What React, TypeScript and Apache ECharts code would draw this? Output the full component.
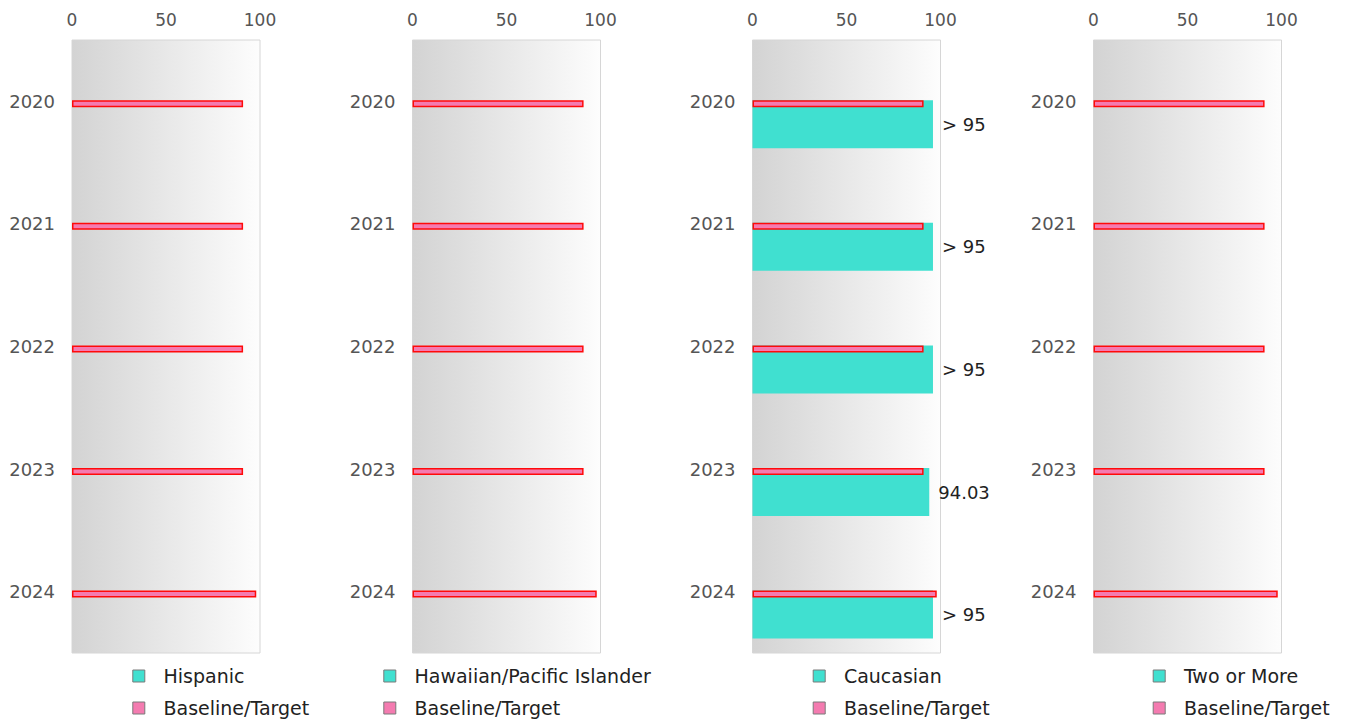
import React, { useEffect, useRef } from "react";
import * as echarts from "echarts";

const years = ["2020", "2021", "2022", "2023", "2024"];
const groups = ["Hispanic", "Hawaiian/Pacific Islander", "Caucasian", "Two or More"];
const baselineTarget = [91, 91, 91, 91, 98];
const hispanicRates: (number | null)[] = [null, null, null, null, null];
const hawaiianRates: (number | null)[] = [null, null, null, null, null];
const caucasianRates: (number | null)[] = [96, 96, 96, 94.03, 96];
const twoOrMoreRates: (number | null)[] = [null, null, null, null, null];
const hispanicLabels = ["", "", "", "", ""];
const hawaiianLabels = ["", "", "", "", ""];
const caucasianLabels = ["> 95", "> 95", "> 95", "94.03", "> 95"];
const twoOrMoreLabels = ["", "", "", "", ""];
const xTicks = [0, 50, 100];

const groupRates = [hispanicRates, hawaiianRates, caucasianRates, twoOrMoreRates];
const groupLabels = [hispanicLabels, hawaiianLabels, caucasianLabels, twoOrMoreLabels];

const TEAL = "#40e0d0";
const PINK = "#f47bb0";
const FONT = "DejaVu Sans";

export default function App() {
  const ref = useRef<HTMLDivElement>(null);
  useEffect(() => {
    if (!ref.current) return;
    const chart = echarts.init(ref.current, undefined, { renderer: "svg" });
    const panelLeft = [72, 412.5, 752.5, 1093.5];
    const legendIconLeft = [132.3, 383.3, 812.7, 1152.7];
    const grids: any[] = [];
    const xAxes: any[] = [];
    const yAxes: any[] = [];
    const series: any[] = [];
    const legends: any[] = [];
    groups.forEach((g, i) => {
      grids.push({
        left: panelLeft[i],
        top: 40,
        width: 188,
        height: 613,
        show: true,
        borderColor: "#d6d6d6",
        borderWidth: 1,
        backgroundColor: new echarts.graphic.LinearGradient(0, 0, 1, 0, [
          { offset: 0, color: "#d3d3d3" },
          { offset: 1, color: "#fdfdfd" },
        ]),
      });
      xAxes.push({
        type: "value",
        gridIndex: i,
        position: "top",
        min: xTicks[0],
        max: xTicks[xTicks.length - 1],
        interval: xTicks[1] - xTicks[0],
        axisLine: { show: false },
        axisTick: { show: false },
        splitLine: { show: false },
        axisLabel: { color: "#555", fontSize: 17, fontFamily: FONT, margin: 12 },
      });
      yAxes.push({
        type: "category",
        gridIndex: i,
        data: years,
        inverse: true,
        axisLine: { show: false },
        axisTick: { show: false },
        splitLine: { show: false },
        axisLabel: { color: "#555", fontSize: 18, fontFamily: FONT, margin: 17 },
      });
      const labels = groupLabels[i];
      series.push({
        type: "bar",
        name: g,
        xAxisIndex: i,
        yAxisIndex: i,
        data: groupRates[i],
        barWidth: 48,
        barGap: "-100%",
        itemStyle: { color: TEAL },
        label: {
          show: true,
          position: "right",
          distance: 9,
          color: "#222",
          fontSize: 18,
          fontFamily: FONT,
          formatter: (p: any) => labels[p.dataIndex],
        },
      });
      series.push({
        type: "bar",
        name: "Baseline/Target",
        xAxisIndex: i,
        yAxisIndex: i,
        data: baselineTarget,
        barWidth: 7,
        barGap: "-100%",
        itemStyle: { color: PINK, borderColor: "#ff0a0a", borderWidth: 1.5 },
      });
      series.push({
        type: "bar",
        name: "spacer" + i,
        xAxisIndex: i,
        yAxisIndex: i,
        data: [null, null, null, null, null],
        barWidth: 2.2,
        barGap: "-100%",
        silent: true,
      });
      legends.push({
        orient: "vertical",
        left: legendIconLeft[i],
        top: 666.5,
        height: 90,
        width: 400,
        padding: 0,
        data: [g, "Baseline/Target"],
        icon: "rect",
        itemWidth: 12,
        itemHeight: 12,
        itemGap: 13,
        selectedMode: false,
        itemStyle: { borderColor: "#7a7a7a", borderWidth: 1 },
        formatter: (name: string) => `{t|${name}}`,
        textStyle: {
          color: "#222",
          fontSize: 19,
          fontFamily: FONT,
          rich: {
            t: { color: "#222", fontSize: 19, fontFamily: FONT, padding: [0, 0, 0, 13.7] },
          },
        },
      });
    });
    chart.setOption({
      animation: false,
      textStyle: { fontFamily: FONT },
      grid: grids,
      xAxis: xAxes,
      yAxis: yAxes,
      series,
      legend: legends,
    });
    return () => chart.dispose();
  }, []);
  return (
    <div
      ref={ref}
      style={{ position: "absolute", left: 0, top: 0, width: 1352, height: 719, background: "#fff" }}
    />
  );
}
